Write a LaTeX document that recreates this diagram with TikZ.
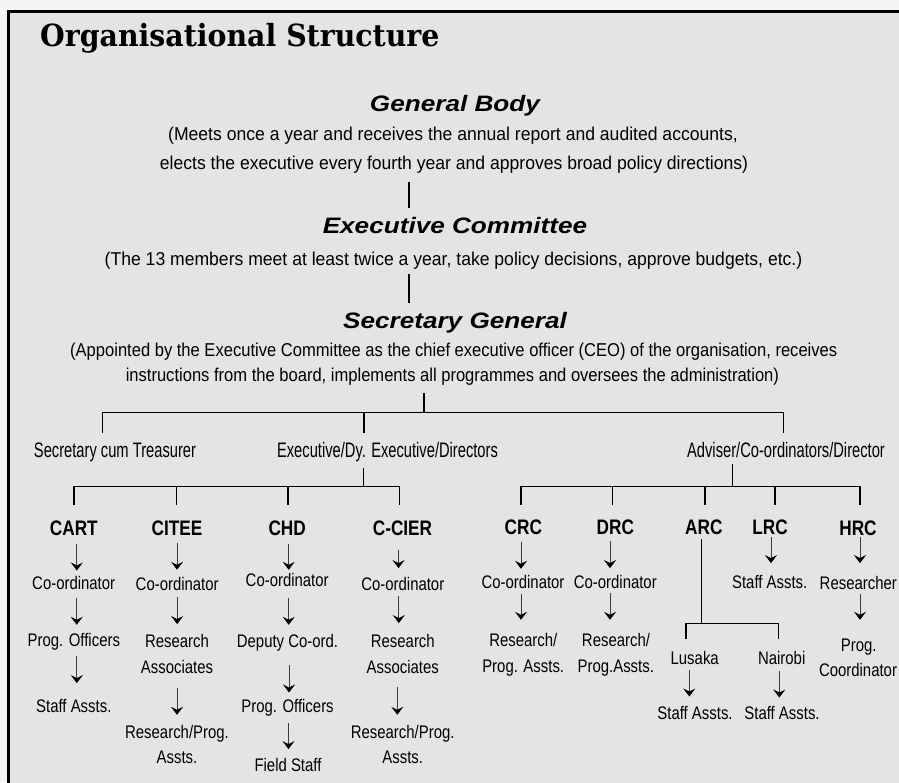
\documentclass[tikz,border=0pt]{standalone}
\usepackage{fontspec}
\setmainfont{Liberation Sans}
\newfontfamily\descfont[FakeStretch=0.945]{Liberation Sans}
\newfontfamily\descfontb[FakeStretch=0.89]{Liberation Sans}
\newfontfamily\lblfont[FakeStretch=0.82]{Liberation Sans}
\newfontfamily\midfont[FakeStretch=0.70]{Liberation Sans}
\newfontfamily\headfont[FakeStretch=1.17]{Liberation Sans}
\newfontfamily\titlefont[FakeStretch=0.93]{DejaVu Serif}
\usetikzlibrary{arrows.meta}
\definecolor{innerbg}{HTML}{E4E4E4}
\definecolor{outerbg}{HTML}{F5F5F5}
\definecolor{arrline}{HTML}{3A3A3A}
\tikzset{
  txt/.style={inner sep=0pt, anchor=base, text depth=4pt},
  ttl/.style={inner sep=0pt, anchor=base west, font=\titlefont\bfseries\fontsize{30.5}{36}\selectfont},
  hd/.style={txt, text height=16pt, font=\headfont\bfseries\itshape\fontsize{22.35}{26}\selectfont},
  dsc/.style={txt, text height=13.3pt, font=\descfont\fontsize{18.6}{22}\selectfont},
  dscb/.style={txt, text height=13.3pt, font=\descfontb\fontsize{18.6}{22}\selectfont},
  midlbl/.style={txt, text height=15pt, font=\midfont\fontsize{21}{25}\selectfont},
  unitlbl/.style={txt, text height=15pt, font=\lblfont\bfseries\fontsize{21}{25}\selectfont},
  lbl/.style={txt, text height=13pt, font=\lblfont\fontsize{18.2}{22}\selectfont},
  ln/.style={line width=1.4pt, draw=black},
  arrw/.style={line width=1pt, draw=arrline, -{Stealth[length=8pt,width=12pt,inset=3pt,color=black]}},
}
\newcommand\myconn[5]{\draw[arrw,shorten <=#4pt,shorten >=#5pt] ([xshift=#3pt]#1.south) -- ([xshift=#3pt]#1.south |- #2.north);}
\begin{document}
\begin{tikzpicture}[x=1pt,y=-1pt]
\useasboundingbox (0,0) rectangle (899,782);
\clip (0,0) rectangle (899,782);
\fill[outerbg] (0,0) rectangle (899,782);
\filldraw[fill=innerbg, draw=black, line width=2.8pt] (8.3,11.3) rectangle (940,820);

% title and top hierarchy
\node[ttl] (title) at (40,46.5) {Organisational Structure};
\node[hd] (gb) at (455,111) {General Body};
\node[dsc] (gbd1) at (453,140) {(Meets once a year and receives the annual report and audited accounts,};
\node[dsc] (gbd2) at (454,169.3) {elects the executive every fourth year and approves broad policy directions)};
\node[hd] (ec) at (455,233.3) {Executive Committee};
\node[dsc] (ecd) at (453.5,265) {(The 13 members meet at least twice a year, take policy decisions, approve budgets, etc.)};
\node[hd] (sg) at (455,328.3) {Secretary General};
\node[dscb] (sgd1) at (453.7,356.7) {(Appointed by the Executive Committee as the chief executive officer (CEO) of the organisation, receives};
\node[dscb] (sgd2) at (452.4,381) {instructions from the board, implements all programmes and oversees the administration)};

% second level
\node[midlbl] (sct) at (115,457.3) {Secretary cum Treasurer};
\node[midlbl] (exe) at (387.5,457.3) {Executive/Dy. Executive/Directors};
\node[midlbl] (adv) at (786,457.3) {Adviser/Co-ordinators/Director};

% units
\node[unitlbl] (cart) at (73.8,535) {CART};
\node[unitlbl] (citee) at (177,535) {CITEE};
\node[unitlbl] (chd) at (287.2,535) {CHD};
\node[unitlbl] (ccier) at (402.5,535) {C-CIER};
\node[unitlbl] (crc) at (523.3,534.3) {CRC};
\node[unitlbl] (drc) at (615.3,534.3) {DRC};
\node[unitlbl] (arc) at (703.8,534.3) {ARC};
\node[unitlbl] (lrc) at (770,534.3) {LRC};
\node[unitlbl] (hrc) at (858,535.7) {HRC};

% CART
\node[lbl] (c1co) at (73.7,589.3) {Co-ordinator};
\node[lbl] (c1po) at (73.8,646.7) {Prog. Officers};
\node[lbl] (c1sa) at (73.8,712.3) {Staff Assts.};
% CITEE
\node[lbl] (c2co) at (177.2,590) {Co-ordinator};
\node[lbl] (c2r1) at (177,647.3) {Research};
\node[lbl] (c2r2) at (177,673.3) {Associates};
\node[lbl] (c2p1) at (177,738.3) {Research/Prog.};
\node[lbl] (c2p2) at (177,763.3) {Assts.};
% CHD
\node[lbl] (c3co) at (287.2,586.7) {Co-ordinator};
\node[lbl] (c3dc) at (287.5,647.7) {Deputy Co-ord.};
\node[lbl] (c3po) at (287.5,712.7) {Prog. Officers};
\node[lbl] (c3fs) at (288,771) {Field Staff};
% C-CIER
\node[lbl] (c4co) at (402.8,590) {Co-ordinator};
\node[lbl] (c4r1) at (402.8,647.3) {Research};
\node[lbl] (c4r2) at (402.8,673.3) {Associates};
\node[lbl] (c4p1) at (402.7,738.3) {Research/Prog.};
\node[lbl] (c4p2) at (402.7,763.3) {Assts.};
% CRC
\node[lbl] (crcco) at (523,588.3) {Co-ordinator};
\node[lbl] (crcr1) at (523.3,646.7) {Research/};
\node[lbl] (crcr2) at (523.2,672.7) {Prog. Assts.};
% DRC
\node[lbl] (drcco) at (615.3,588.3) {Co-ordinator};
\node[lbl] (drcr1) at (616,646.7) {Research/};
\node[lbl] (drcr2) at (615.8,672.7) {Prog.Assts.};
% ARC
\node[lbl] (lus) at (694.7,664.3) {Lusaka};
\node[lbl] (nai) at (781.7,664.3) {Nairobi};
\node[lbl] (lussa) at (695,719.3) {Staff Assts.};
\node[lbl] (naisa) at (782,719.3) {Staff Assts.};
% LRC
\node[lbl] (lrcsa) at (769.7,588.3) {Staff Assts.};
% HRC
\node[lbl] (hrcre) at (858.3,589.3) {Researcher};
\node[lbl] (hrcp1) at (858.7,651.7) {Prog.};
\node[lbl] (hrcp2) at (858,676) {Coordinator};

% tree connector points
\coordinate (gbA) at (409,181.7);
\coordinate (ecB) at (409,207.7);
\coordinate (ecA) at (409,274);
\coordinate (sgB) at (409,303);
\coordinate (sgA) at (424,393);
\coordinate (busA) at (424,412.7);
\coordinate (dSct) at (102.3,433);
\coordinate (dExe) at (364,433);
\coordinate (dAdv) at (783.3,433);
\coordinate (exeA) at (363.3,467.7);
\coordinate (busB) at (363.3,486.7);
\coordinate (dCart) at (74,505);
\coordinate (dCitee) at (176.7,505);
\coordinate (dChd) at (288,505);
\coordinate (dCcier) at (399.3,505);
\coordinate (advA) at (732.7,464.3);
\coordinate (busC) at (732.7,486.7);
\coordinate (dCrc) at (521,505);
\coordinate (dDrc) at (612.7,505);
\coordinate (dArc) at (705,505);
\coordinate (dLrc) at (775,505);
\coordinate (dHrc) at (860,505);
\coordinate (arcA) at (701.7,539.3);
\coordinate (busD) at (701.7,623.3);
\coordinate (dLus) at (686,639.3);
\coordinate (dNai) at (778.3,639.3);

\draw[ln] (gbA) -- (ecB);
\draw[ln] (ecA) -- (sgB);
\draw[ln] (sgA) -- (busA);
\draw[ln] (dSct) |- (busA) -| (dAdv);
\draw[ln] (dExe) -- (dExe |- busA);
\draw[ln] (exeA) -- (busB);
\draw[ln] (dCart) |- (busB) -| (dCcier);
\draw[ln] (dCitee) -- (dCitee |- busB);
\draw[ln] (dChd) -- (dChd |- busB);
\draw[ln] (advA) -- (busC);
\draw[ln] (dCrc) |- (busC) -| (dHrc);
\draw[ln] (dDrc) -- (dDrc |- busC);
\draw[ln] (dArc) -- (dArc |- busC);
\draw[ln] (dLrc) -- (dLrc |- busC);
\draw[ln] (arcA) -- (busD);
\draw[ln] (dLus) |- (busD) -| (dNai);

% arrows
\myconn{cart}{c1co}{3}{4.3}{5.6}
\myconn{c1co}{c1po}{3}{4.4}{8.7}
\myconn{c1po}{c1sa}{3}{5.3}{16}
\myconn{citee}{c2co}{0}{3.7}{7}
\myconn{c2co}{c2r1}{0}{2.7}{10}
\myconn{c2r2}{c2p1}{0}{10}{10.3}
\myconn{chd}{c3co}{1.5}{4.3}{3.7}
\myconn{c3co}{c3dc}{1.5}{7}{9.7}
\myconn{c3dc}{c3po}{1.5}{13.3}{7}
\myconn{c3po}{c3fs}{1}{6}{8.7}
\myconn{ccier}{c4co}{-4}{11}{8.7}
\myconn{c4co}{c4r1}{-4}{1.3}{11}
\myconn{c4r2}{c4p1}{-5.5}{9.4}{10.3}
\myconn{crc}{crcco}{-2.3}{3.4}{6.3}
\myconn{crcco}{crcr1}{-2}{1}{13.7}
\myconn{drc}{drcco}{-5.3}{2.4}{7}
\myconn{drcco}{drcr1}{-5.3}{0.4}{13.7}
\myconn{lus}{lussa}{-5.4}{1}{9.6}
\myconn{nai}{naisa}{-2.4}{2.4}{8.6}
\myconn{lrc}{lrcsa}{1}{-1.6}{12}
\myconn{hrc}{hrcre}{2}{-3}{13}
\myconn{hrcre}{hrcp1}{1.7}{0}{18.7}
\end{tikzpicture}
\end{document}
